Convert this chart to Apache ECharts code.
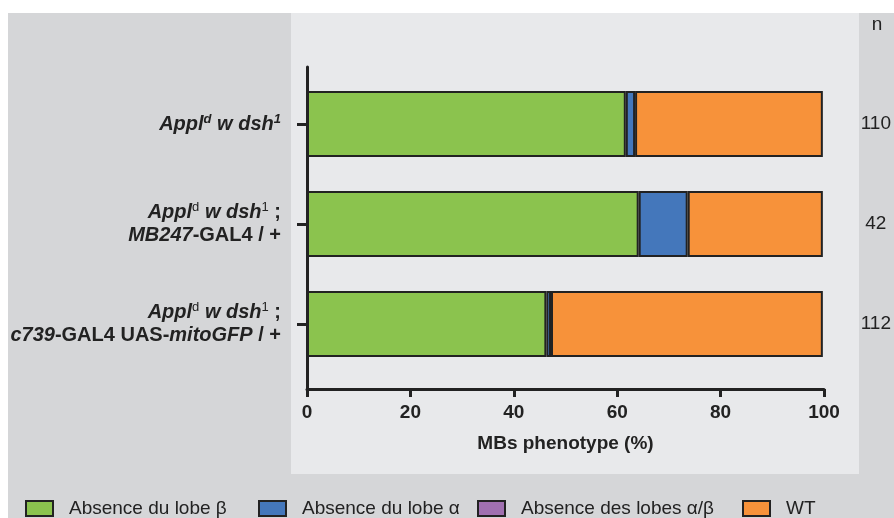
<!DOCTYPE html>
<html>
<head>
<meta charset="utf-8">
<script src="https://cdn.jsdelivr.net/npm/echarts@6/dist/echarts.min.js"></script>
<style>html,body{margin:0;padding:0;background:#fff}#c{width:894px;height:518px}</style>
</head>
<body>
<div id="c"></div>
<script>
// ---- data ----
var categories = ['Appl^d w dsh^1', 'Appl^d w dsh^1 ; MB247-GAL4 / +', 'Appl^d w dsh^1 ; c739-GAL4 UAS-mitoGFP / +'];
var nValues = ['110', '42', '112'];
var seriesNames = ['Absence du lobe β', 'Absence du lobe α', 'Absence des lobes α/β', 'WT'];
var lobeBeta = [61.8, 64.3, 46.4];
var lobeAlpha = [1.8, 9.5, 0.9];
var lobesAlphaBeta = [0, 0, 0];
var wt = [36.4, 26.2, 52.7];
var xTicks = [0, 20, 40, 60, 80, 100];
var xAxisTitle = 'MBs phenotype (%)';

// rich labels for the genotypes
var richLabels = [
  '{bi|Appl}{supi|d}{bi| w dsh}{supi|1}',
  '{bi|Appl}{sup|d}{bi| w dsh}{sup|1}{b| ;}\n{bi|MB247}{b|-GAL4 / +}',
  '{bi|Appl}{sup|d}{bi| w dsh}{sup|1}{b| ;}\n{bi|c739}{b|-GAL4 UAS-}{bi|mitoGFP}{b| / +}'
];

var FONT = "'Liberation Sans', Arial, sans-serif";
var colors = ['#8bc34e', '#4477bb', '#a070b0', '#f7923a'];
var seriesData = [lobeBeta, lobeAlpha, lobesAlphaBeta, wt];

var chart = echarts.init(document.getElementById('c'));
var series = seriesNames.map(function (name, i) {
  return {
    name: name, type: 'bar', stack: 'total', xAxisIndex: 0, yAxisIndex: 0,
    barWidth: 66,
    itemStyle: { color: colors[i], borderColor: '#222', borderWidth: 2 },
    data: seriesData[i].map(function (v) { return v === 0 ? '-' : v; })
  };
});

var legendLefts = [25, 258, 477, 742];
var legends = seriesNames.map(function (name, i) {
  return {
    data: [name], left: legendLefts[i], top: 499, icon: 'rect', padding: 0,
    itemWidth: 27, itemHeight: 15,
    itemStyle: { borderColor: '#222', borderWidth: 2 },
    textStyle: { fontFamily: FONT, fontSize: 19, color: '#222', padding: [0, 0, 0, 11] },
    selectedMode: false
  };
});

var rich = {
  bi: { fontFamily: FONT, fontSize: 20, fontWeight: 'bold', fontStyle: 'italic', color: '#222', lineHeight: 23 },
  b: { fontFamily: FONT, fontSize: 20, fontWeight: 'bold', color: '#222', lineHeight: 23 },
  sup: { fontFamily: FONT, fontSize: 13, color: '#222', verticalAlign: 'top', lineHeight: 12 },
  supi: { fontFamily: FONT, fontSize: 13, fontStyle: 'italic', fontWeight: 'bold', color: '#222', verticalAlign: 'top', lineHeight: 12 }
};

chart.setOption({
  animation: false,
  textStyle: { fontFamily: FONT },
  graphic: [
    { type: 'rect', z: -10, shape: { x: 8, y: 13, width: 886, height: 505 }, style: { fill: '#d5d6d8' } },
    { type: 'rect', z: -9, shape: { x: 291, y: 13, width: 568, height: 461 }, style: { fill: '#e8e9eb' } },
    { type: 'text', z: 5, x: 877, y: 25, style: { text: 'n', fontFamily: FONT, fontSize: 19, fill: '#222', align: 'center', verticalAlign: 'middle' } }
  ],
  legend: legends,
  grid: [
    { left: 307, right: 70, top: 74, height: 300 },
    { left: 307, right: 70, top: 67, bottom: 129 }
  ],
  xAxis: [
    { gridIndex: 0, type: 'value', min: 0, max: 100, show: false },
    {
      gridIndex: 1, type: 'value', min: xTicks[0], max: xTicks[xTicks.length - 1], interval: 20,
      axisLine: { show: true, lineStyle: { color: '#222', width: 3 } },
      axisTick: { show: true, length: 8, lineStyle: { color: '#222', width: 3 } },
      splitLine: { show: false },
      axisLabel: { margin: 14, fontFamily: FONT, fontSize: 19, fontWeight: 'bold', color: '#222' },
      name: xAxisTitle, nameLocation: 'middle', nameGap: 45,
      nameTextStyle: { fontFamily: FONT, fontSize: 19, fontWeight: 'bold', color: '#222' }
    }
  ],
  yAxis: [
    {
      gridIndex: 0, type: 'category', inverse: true, data: categories,
      axisLine: { show: false },
      axisTick: { show: true, alignWithLabel: true, length: 10, lineStyle: { color: '#222', width: 3 } },
      axisLabel: {
        margin: 26, align: 'right',
        formatter: function (v, i) { return richLabels[i]; },
        rich: rich
      }
    },
    {
      gridIndex: 0, type: 'category', inverse: true, data: categories, position: 'right',
      axisLine: { show: false }, axisTick: { show: false },
      axisLabel: {
        margin: 53, align: 'center', fontFamily: FONT, fontSize: 19, color: '#222',
        formatter: function (v, i) { return nValues[i]; }
      }
    },
    {
      gridIndex: 1, type: 'value', min: 0, max: 1,
      axisLine: { show: true, lineStyle: { color: '#222', width: 3 } },
      axisTick: { show: false }, axisLabel: { show: false }, splitLine: { show: false }
    }
  ],
  series: series
});
</script>
</body>
</html>
